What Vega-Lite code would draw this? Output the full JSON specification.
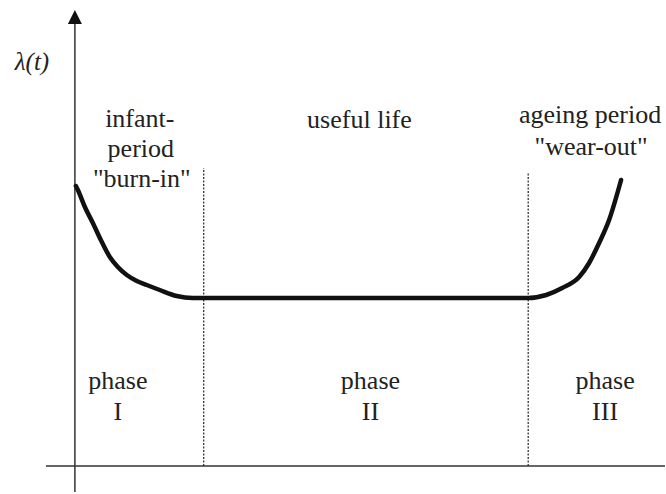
{
  "$schema": "https://vega.github.io/schema/vega-lite/v6.json",
  "width": 666,
  "height": 494,
  "padding": 0,
  "autosize": {"type": "fit", "contains": "padding"},
  "background": "white",
  "config": {"view": {"stroke": null}},
  "datasets": {
    "curve": [
      {"x": 76, "y": 308}, {"x": 78, "y": 304}, {"x": 85, "y": 287}, {"x": 93, "y": 271},
      {"x": 101, "y": 254}, {"x": 110, "y": 237}, {"x": 118, "y": 227}, {"x": 127, "y": 219},
      {"x": 137, "y": 213}, {"x": 147, "y": 209}, {"x": 160, "y": 204}, {"x": 177, "y": 198},
      {"x": 193, "y": 196}, {"x": 204, "y": 196}, {"x": 529, "y": 196}, {"x": 547, "y": 199},
      {"x": 563, "y": 206}, {"x": 580, "y": 217}, {"x": 590, "y": 231}, {"x": 600, "y": 251},
      {"x": 610, "y": 274}, {"x": 622, "y": 314}
    ],
    "axes": [
      {"x": 75, "x2": 75, "y": 2, "y2": 471},
      {"x": 46, "x2": 666, "y": 28, "y2": 28}
    ],
    "dividers": [
      {"x": 204, "x2": 204, "y": 28, "y2": 326},
      {"x": 529, "x2": 529, "y": 28, "y2": 321}
    ],
    "arrow": [{"x": 75, "y": 477}],
    "labels": [
      {"x": 140, "y": 367, "label": "infant-"},
      {"x": 141, "y": 337, "label": "period"},
      {"x": 142, "y": 307, "label": "\"burn-in\""},
      {"x": 360, "y": 366, "label": "useful life"},
      {"x": 591, "y": 371, "label": "ageing period"},
      {"x": 592, "y": 339, "label": "\"wear-out\""},
      {"x": 118, "y": 105, "label": "phase"},
      {"x": 118, "y": 74, "label": "I"},
      {"x": 371, "y": 105, "label": "phase"},
      {"x": 371, "y": 74, "label": "II"},
      {"x": 606, "y": 105, "label": "phase"},
      {"x": 606, "y": 74, "label": "III"}
    ],
    "ylab": [{"x": 32, "y": 424, "label": "λ(t)"}]
  },
  "encoding": {
    "x": {"field": "x", "type": "quantitative", "axis": null, "scale": {"domain": [0, 666], "nice": false, "zero": false}},
    "y": {"field": "y", "type": "quantitative", "axis": null, "scale": {"domain": [0, 494], "nice": false, "zero": false}}
  },
  "layer": [
    {
      "data": {"name": "dividers"},
      "mark": {"type": "rule", "color": "#333333", "strokeWidth": 1.3, "strokeDash": [2, 1.5]},
      "encoding": {"x2": {"field": "x2"}, "y2": {"field": "y2"}}
    },
    {
      "data": {"name": "axes"},
      "mark": {"type": "rule", "color": "#333333", "strokeWidth": 1.5},
      "encoding": {"x2": {"field": "x2"}, "y2": {"field": "y2"}}
    },
    {
      "data": {"name": "arrow"},
      "mark": {"type": "point", "shape": "M-1,1L1,1L0,-1Z", "size": 196, "filled": true, "color": "#111111", "opacity": 1, "strokeWidth": 0}
    },
    {
      "data": {"name": "curve"},
      "mark": {"type": "line", "color": "#111111", "strokeWidth": 4.5, "interpolate": "monotone", "strokeCap": "round"}
    },
    {
      "data": {"name": "labels"},
      "mark": {"type": "text", "font": "Liberation Serif", "fontSize": 26, "align": "center", "baseline": "alphabetic", "color": "#222222"},
      "encoding": {"text": {"field": "label"}}
    },
    {
      "data": {"name": "ylab"},
      "mark": {"type": "text", "font": "Liberation Serif", "fontSize": 25, "fontStyle": "italic", "align": "center", "baseline": "alphabetic", "color": "#222222"},
      "encoding": {"text": {"field": "label"}}
    }
  ]
}
